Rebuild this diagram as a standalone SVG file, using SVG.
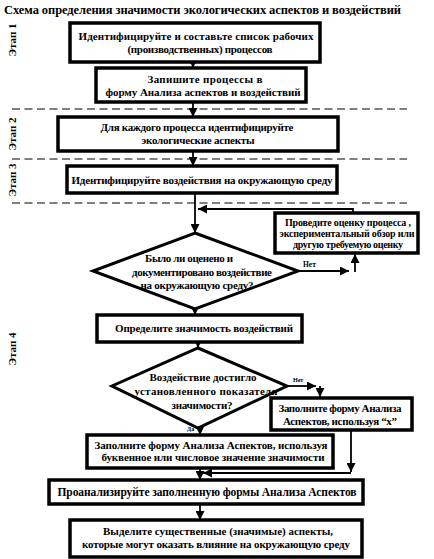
<svg xmlns="http://www.w3.org/2000/svg" width="434" height="559" viewBox="0 0 434 559">
<defs>
<style>
.t{font-family:"Liberation Serif","Times New Roman",serif;font-weight:bold;font-size:11px;fill:#000;text-anchor:middle}
.box{fill:#fff;stroke:#000;stroke-width:3.5}
.dia{fill:#fff;stroke:#000;stroke-width:3}
.c{fill:none;stroke:#000;stroke-width:1.8}
.dash{fill:none;stroke:#000;stroke-width:1.2;stroke-dasharray:8 4.5}
.stage{font-family:"Liberation Serif","Times New Roman",serif;font-weight:bold;font-size:11px;fill:#000;text-anchor:middle}
.s{font-family:"Liberation Serif","Times New Roman",serif;font-weight:bold;fill:#000}
</style>
<marker id="ah" viewBox="0 0 10 10" refX="10" refY="5" markerWidth="9" markerHeight="9" markerUnits="userSpaceOnUse" orient="auto"><path d="M0,0 L10,5 L0,10 z" fill="#000"/></marker>
</defs>
<rect width="434" height="559" fill="#fff"/>
<text class="s" x="4" y="14" font-size="12.5" textLength="397">Схема определения значимости экологических аспектов и воздействий</text>

<g id="stages">
<text class="stage" transform="translate(16,40) rotate(-90)">Этап 1</text>
<text class="stage" transform="translate(16,134) rotate(-90)">Этап 2</text>
<text class="stage" transform="translate(16,180) rotate(-90)">Этап 3</text>
<text class="stage" transform="translate(16,349) rotate(-90)">Этап 4</text>
</g>
<g id="dividers">
<line class="dash" x1="12" y1="109" x2="407" y2="109"/>
<line class="dash" x1="12" y1="159" x2="407" y2="159"/>
<line class="dash" x1="12" y1="203" x2="407" y2="203"/>
</g>

<g id="connectors">
<line class="c" x1="193" y1="62" x2="193" y2="68" marker-end="url(#ah)"/>
<line class="c" x1="193" y1="102" x2="193" y2="117" marker-end="url(#ah)"/>
<line class="c" x1="193" y1="151" x2="193" y2="166" marker-end="url(#ah)"/>
<line class="c" x1="195" y1="193" x2="195" y2="233" marker-end="url(#ah)"/>
<polyline class="c" points="353,213 353,209 198,209" marker-end="url(#ah)"/>
<line class="c" x1="353" y1="214" x2="353" y2="212" marker-end="url(#ah)"/>
<line class="c" x1="298" y1="271" x2="349" y2="271" marker-end="url(#ah)"/>
<line class="c" x1="355" y1="272" x2="355" y2="254" marker-end="url(#ah)"/>
<line class="c" x1="195" y1="309" x2="195" y2="315" marker-end="url(#ah)"/>
<line class="c" x1="198" y1="342" x2="198" y2="348" marker-end="url(#ah)"/>
<line class="c" x1="287" y1="386" x2="316" y2="386" marker-end="url(#ah)"/>
<line class="c" x1="320" y1="386" x2="320" y2="397" marker-end="url(#ah)"/>
<line class="c" x1="200" y1="428" x2="200" y2="435" marker-end="url(#ah)"/>
<line class="c" x1="351" y1="430" x2="351" y2="472" marker-end="url(#ah)"/>
<line class="c" x1="351" y1="473" x2="203" y2="473" marker-end="url(#ah)"/>
<line class="c" x1="200" y1="468" x2="200" y2="480" marker-end="url(#ah)"/>
<line class="c" x1="200" y1="504" x2="200" y2="520" marker-end="url(#ah)"/>
<text class="s" x="303" y="267" font-size="7.5">Нет</text>
<text class="s" x="178" y="303" font-size="7.5">Да</text>
<text class="s" x="293" y="382" font-size="6">Нет</text>
<text class="s" x="187" y="431" font-size="6">Да</text>
</g>

<g id="n1">
<rect class="box" x="70" y="23" width="250" height="39"/>
<text class="t" x="196" y="40" textLength="235">Идентифицируйте  и  составьте список рабочих</text>
<text class="t" x="200" y="53" textLength="145">(производственных) процессов</text>
</g>
<g id="n2">
<rect class="box" x="96" y="68" width="210" height="34"/>
<text class="t" x="205" y="83" textLength="115">Запишите процессы в</text>
<text class="t" x="203" y="96" textLength="195">форму Анализа аспектов и воздействий</text>
</g>
<g id="n3">
<rect class="box" x="58" y="117" width="280" height="34"/>
<text class="t" x="197" y="131" textLength="193">Для каждого процесса идентифицируйте</text>
<text class="t" x="198" y="144" textLength="113">экологические аспекты</text>
</g>
<g id="n4">
<rect class="box" x="67" y="166" width="270" height="27"/>
<text class="t" x="202" y="184" textLength="261">Идентифицируйте воздействия на окружающую среду</text>
</g>
<g id="n5">
<rect class="box" x="275" y="213" width="143" height="40"/>
<text class="t" x="348" y="226" style="font-size:10px" textLength="126">Проведите оценку процесса ,</text>
<text class="t" x="347" y="237" style="font-size:10px" textLength="135">экспериментальный обзор или</text>
<text class="t" x="348" y="248" style="font-size:10px" textLength="110">другую требуемую оценку</text>
</g>
<g id="n6">
<polygon class="dia" points="195,233 298,271 195,309 93,271"/>
<text class="t" x="189" y="262" textLength="88">Было ли оценено и</text>
<text class="t" x="202" y="276" textLength="140">документировано воздействие</text>
<text class="t" x="197" y="289" textLength="113">на окружающую среду?</text>
</g>
<g id="n7">
<rect class="box" x="97" y="315" width="205" height="27"/>
<text class="t" x="204" y="332" textLength="178">Определите значимость воздействий</text>
</g>
<g id="n8">
<polygon class="dia" points="198,348 287,386 198,428 112,386"/>
<text class="t" x="203" y="381" textLength="107">Воздействие достигло</text>
<text class="t" x="206" y="395" textLength="143">установленного показателя</text>
<text class="t" x="202" y="409" textLength="61">значимости?</text>
</g>
<g id="n9">
<rect class="box" x="271" y="398" width="141" height="32"/>
<text class="t" x="340" y="412" textLength="123">Заполните форму Анализа</text>
<text class="t" x="340" y="425" textLength="114">Аспектов, используя “x”</text>
</g>
<g id="n10">
<rect class="box" x="87" y="435" width="246" height="33"/>
<text class="t" x="211" y="449" textLength="233">Заполните форму Анализа  Аспектов, используя</text>
<text class="t" x="213" y="461" textLength="223">буквенное или числовое значение значимости</text>
</g>
<g id="n11">
<rect class="box" x="49" y="480" width="314" height="24"/>
<text class="t" x="207" y="496" style="font-size:11.5px" textLength="299">Проанализируйте заполненную формы Анализа Аспектов</text>
</g>
<g id="n12">
<rect class="box" x="70" y="520" width="292" height="37"/>
<text class="t" x="218" y="535" textLength="230">Выделите существенные (значимые) аспекты,</text>
<text class="t" x="216" y="548" textLength="268">которые могут оказать влияние на окружающую среду</text>
</g>
</svg>
